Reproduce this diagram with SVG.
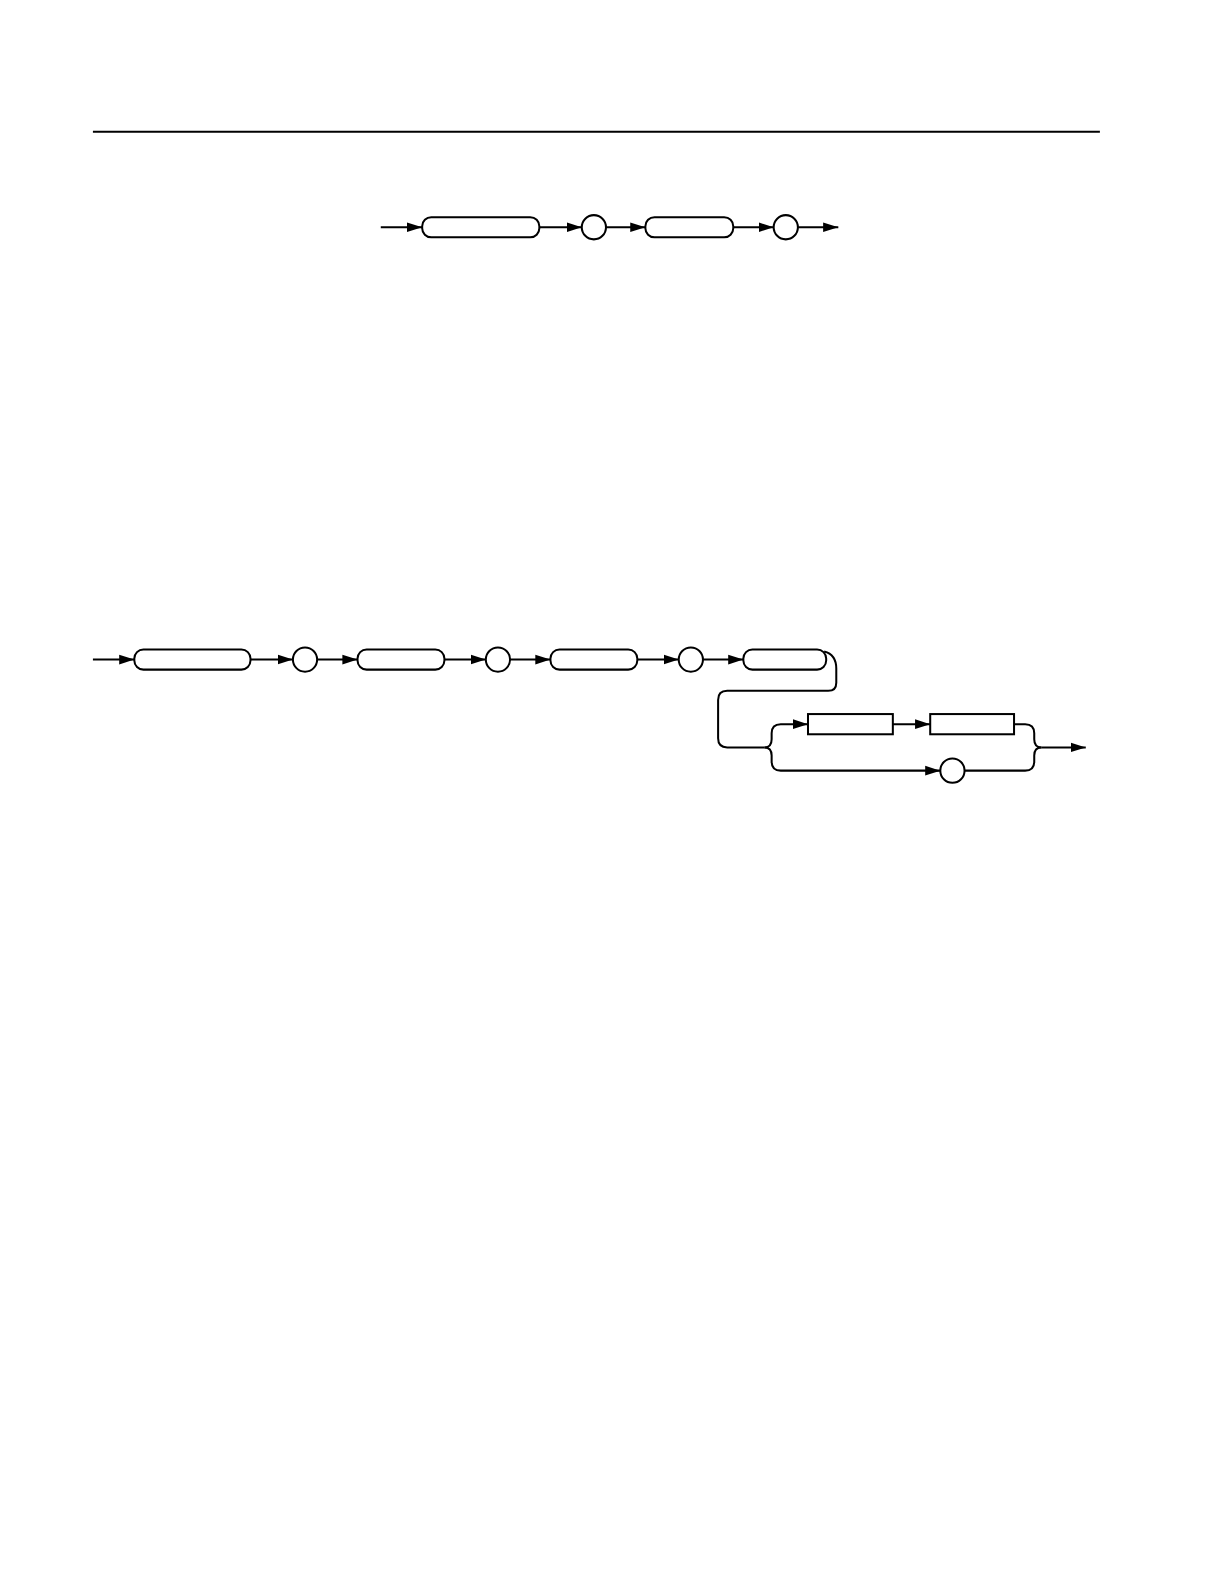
<svg xmlns="http://www.w3.org/2000/svg" width="1224" height="1584" viewBox="0 0 1224 1584">
<style>
.n{fill:#fff;stroke:#000;stroke-width:2}
.c{fill:none;stroke:#000;stroke-width:2}
</style>
<defs>
<marker id="a" markerUnits="userSpaceOnUse" markerWidth="16" markerHeight="12" refX="15" refY="6" orient="auto">
<path d="M0,1.2 L15,6 L0,10.8 z" fill="#000"/>
</marker>
</defs>
<rect width="1224" height="1584" fill="#fff"/>
<g transform="scale(1.01)">
<line x1="92" y1="130.5" x2="1089" y2="130.5" stroke="#000" stroke-width="2"/>
<g id="connectors">
<line class="c" x1="377" y1="225" x2="418" y2="225" marker-end="url(#a)"/>
<line class="c" x1="534" y1="225" x2="576" y2="225" marker-end="url(#a)"/>
<line class="c" x1="600" y1="225" x2="639" y2="225" marker-end="url(#a)"/>
<line class="c" x1="726" y1="225" x2="766" y2="225" marker-end="url(#a)"/>
<line class="c" x1="790" y1="225" x2="830" y2="225" marker-end="url(#a)"/>
<line class="c" x1="92" y1="653" x2="133" y2="653" marker-end="url(#a)"/>
<line class="c" x1="248" y1="653" x2="290" y2="653" marker-end="url(#a)"/>
<line class="c" x1="314" y1="653" x2="354" y2="653" marker-end="url(#a)"/>
<line class="c" x1="440" y1="653" x2="481" y2="653" marker-end="url(#a)"/>
<line class="c" x1="505" y1="653" x2="545" y2="653" marker-end="url(#a)"/>
<line class="c" x1="631" y1="653" x2="672" y2="653" marker-end="url(#a)"/>
<line class="c" x1="696" y1="653" x2="736" y2="653" marker-end="url(#a)"/>
<path class="c" d="M816,645 Q828,648 828,662 L828,676 Q828,684 820,684 L720,684 Q711,684 711,693 L711,731 Q711,740 720,740 L757,740"/>
<path class="c" d="M757,740 Q764,740 764,732 L764,726 Q764,717 773,717 L800,717" marker-end="url(#a)"/>
<path class="c" d="M757,740 Q764,740 764,748 L764,754 Q764,763 773,763 L931,763" marker-end="url(#a)"/>
<line class="c" x1="884" y1="717" x2="921" y2="717" marker-end="url(#a)"/>
<path class="c" d="M1004,717 L1015,717 Q1024,717 1024,726 L1024,732 Q1024,740 1031,740"/>
<path class="c" d="M955,763 L1015,763 Q1024,763 1024,754 L1024,748 Q1024,740 1031,740"/>
<line class="c" x1="1031" y1="740" x2="1075" y2="740" marker-end="url(#a)"/>
</g>
<g id="n1"><rect class="n" x="418" y="215" width="116" height="20" rx="9"/></g>
<g id="n2"><circle class="n" cx="588" cy="225" r="12"/></g>
<g id="n3"><rect class="n" x="639" y="215" width="87" height="20" rx="9"/></g>
<g id="n4"><circle class="n" cx="778" cy="225" r="12"/></g>
<g id="n5"><rect class="n" x="133" y="643" width="115" height="20" rx="9"/></g>
<g id="n6"><circle class="n" cx="302" cy="653" r="12"/></g>
<g id="n7"><rect class="n" x="354" y="643" width="86" height="20" rx="9"/></g>
<g id="n8"><circle class="n" cx="493" cy="653" r="12"/></g>
<g id="n9"><rect class="n" x="545" y="643" width="86" height="20" rx="9"/></g>
<g id="n10"><circle class="n" cx="684" cy="653" r="12"/></g>
<g id="n11"><rect class="n" x="736" y="643" width="82" height="20" rx="9"/></g>
<g id="n12"><rect class="n" x="800" y="707" width="84" height="20"/></g>
<g id="n13"><rect class="n" x="921" y="707" width="83" height="20"/></g>
<g id="n14"><circle class="n" cx="943" cy="763" r="12"/></g>
</g>
</svg>
